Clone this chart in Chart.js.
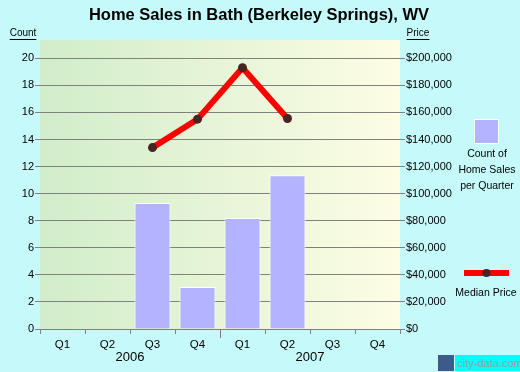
<!DOCTYPE html>
<html>
<head>
<meta charset="utf-8">
<script src="https://cdn.jsdelivr.net/npm/chart.js@4/dist/chart.umd.min.js"></script>
<style>
html,body{margin:0;padding:0;background:#c6fafa;}
#c{display:block;}
</style>
</head>
<body>
<canvas id="c" width="520" height="372"></canvas>
<script>
const quarters = ['Q1','Q2','Q3','Q4','Q1','Q2','Q3','Q4'];
const years = ['2006','2007'];
const salesCount = [null, null, 9.3, 3.1, 8.2, 11.35, null, null];
const medianPrice = [null, null, 134000, 155000, 193000, 155500, null, null];
const countTicks = [0,2,4,6,8,10,12,14,16,18,20];
const priceTicks = [0,20000,40000,60000,80000,100000,120000,140000,160000,180000,200000];

const FONT = '"Liberation Sans", Arial, sans-serif';

const decor = {
  id: 'decor',
  beforeDraw(chart) {
    const {ctx, chartArea: a} = chart;
    ctx.save();
    const g = ctx.createLinearGradient(a.left, 0, a.right, 0);
    g.addColorStop(0, '#d1edca');
    g.addColorStop(1, '#fdfde4');
    ctx.fillStyle = g;
    ctx.fillRect(a.left, a.top, a.right - a.left, a.bottom - a.top);
    ctx.restore();
  },
  afterDraw(chart) {
    const {ctx, chartArea: a, scales} = chart;
    ctx.save();
    // title
    ctx.fillStyle = '#000';
    ctx.font = 'bold 16.5px ' + FONT;
    ctx.textAlign = 'center';
    ctx.textBaseline = 'middle';
    ctx.fillText('Home Sales in Bath (Berkeley Springs), WV', 259, 15);
    // axis titles underlined
    ctx.font = '10px ' + FONT;
    const drawU = (t, x, y) => {
      ctx.textAlign = 'center';
      ctx.fillText(t, x, y);
      const w = ctx.measureText(t).width;
      ctx.fillRect(x - w/2, y + 6, w, 1);
    };
    drawU('Count', 23, 33);
    drawU('Price', 418, 33);
    // year labels + longer tick
    const x = scales.x;
    const step = x.getPixelForValue(1) - x.getPixelForValue(0);
    ctx.font = '13px ' + FONT;
    years.forEach((yr, i) => {
      const x0 = x.getPixelForValue(i*4) - step/2;
      const x1 = x.getPixelForValue(i*4+3) + step/2;
      ctx.textAlign = 'center';
      ctx.fillText(yr, (x0+x1)/2, 357);
    });
    const bx = x.getPixelForValue(4) - step/2;
    ctx.strokeStyle = '#808080';
    ctx.lineWidth = 1;
    ctx.beginPath();
    ctx.moveTo(Math.round(bx)+0.5, a.bottom);
    ctx.lineTo(Math.round(bx)+0.5, a.bottom + 9);
    ctx.stroke();
    // legend: bar
    ctx.fillStyle = '#b3b3ff';
    ctx.fillRect(475, 120, 23, 23);
    ctx.strokeStyle = '#ffffff';
    ctx.lineWidth = 1;
    ctx.strokeRect(474.5, 119.5, 24, 24);
    ctx.fillStyle = '#000';
    ctx.font = '10.5px ' + FONT;
    ctx.textAlign = 'center';
    ctx.fillText('Count of', 487, 154);
    ctx.fillText('Home Sales', 487, 170);
    ctx.fillText('per Quarter', 487, 186);
    // legend: line
    ctx.fillStyle = '#ff0000';
    ctx.fillRect(464, 270, 45, 6);
    ctx.fillStyle = '#4a2323';
    ctx.beginPath();
    ctx.arc(486.5, 273, 4, 0, Math.PI*2);
    ctx.fill();
    ctx.fillStyle = '#000';
    ctx.fillText('Median Price', 486, 293);
    // watermark
    ctx.fillStyle = '#3d5a8a';
    ctx.fillRect(438, 355, 16, 16);
    ctx.fillStyle = '#00ffff';
    ctx.fillRect(455, 355, 65, 16);
    ctx.fillStyle = '#999';
    ctx.font = '11px ' + FONT;
    ctx.textAlign = 'left';
    ctx.fillText('city-data.com', 457, 364);
    ctx.restore();
  }
};

new Chart(document.getElementById('c'), {
  data: {
    labels: quarters,
    datasets: [
      {
        type: 'line',
        label: 'Median Price',
        data: medianPrice,
        yAxisID: 'price',
        borderColor: '#ff0000',
        borderWidth: 6,
        pointRadius: 4.5,
        pointHoverRadius: 4.5,
        pointBackgroundColor: '#4a2323',
        pointBorderWidth: 0,
        spanGaps: false,
        order: 0
      },
      {
        type: 'bar',
        label: 'Count of Home Sales per Quarter',
        data: salesCount,
        yAxisID: 'count',
        backgroundColor: '#b3b3ff',
        borderColor: '#ffffff',
        borderWidth: {top: 1, left: 1, right: 1, bottom: 0},
        borderSkipped: false,
        barPercentage: 0.8,
        categoryPercentage: 1,
        order: 1
      }
    ]
  },
  options: {
    responsive: false,
    animation: false,
    layout: {padding: {top: 40, left: 0, right: 0, bottom: 0}},
    plugins: {legend: {display: false}, title: {display: false}, tooltip: {enabled: false}},
    scales: {
      x: {
        offset: true,
        grid: {offset: true, display: true, drawOnChartArea: false, color: '#808080', tickLength: 5, tickColor: '#808080'},
        border: {display: true, color: '#808080'},
        ticks: {color: '#000', font: {family: FONT, size: 11.5}, padding: 4, maxRotation: 0, autoSkip: false},
        afterFit(s) { s.height = 43; }
      },
      count: {
        type: 'linear',
        position: 'left',
        min: 0,
        max: 21.35,
        afterBuildTicks(s) { s.ticks = countTicks.map(v => ({value: v})); },
        grid: {color: '#808080', tickLength: 5, tickColor: '#808080', lineWidth: 1},
        border: {display: false},
        ticks: {color: '#000', font: {family: FONT, size: 11}, padding: 1},
        afterFit(s) { s.width = 40; }
      },
      price: {
        type: 'linear',
        position: 'right',
        min: 0,
        max: 213500,
        afterBuildTicks(s) { s.ticks = priceTicks.map(v => ({value: v})); },
        grid: {drawOnChartArea: false, color: '#808080', tickLength: 5, tickColor: '#808080'},
        border: {display: false},
        ticks: {color: '#000', font: {family: FONT, size: 11}, padding: 1,
          callback: v => '$' + v.toLocaleString('en-US')},
        afterFit(s) { s.width = 120; }
      }
    }
  },
  plugins: [decor]
});
</script>
</body>
</html>
